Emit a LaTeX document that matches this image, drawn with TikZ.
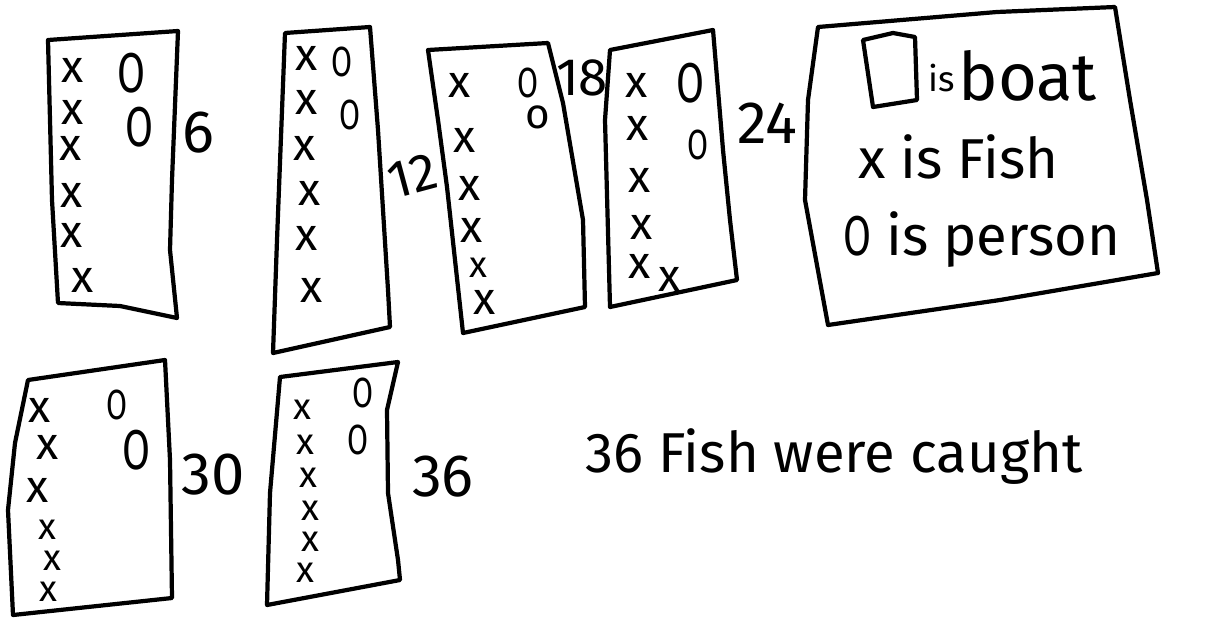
\documentclass[tikz,border=0pt]{standalone}
\usepackage{fontspec}
\setmainfont{Fira Sans}
\usepackage{graphicx}
\newcommand{\pers}{\scalebox{0.72}[1]{O}}

\begin{document}
\begin{tikzpicture}[x=0.02cm,y=-0.02cm,
        boat/.style={line width=2.4pt,line join=round,line cap=round},
        fish/.style={inner sep=0pt,font=\fontsize{26}{26}\selectfont},
        smallfish/.style={inner sep=0pt,font=\fontsize{21}{21}\selectfont},
        pers/.style={inner sep=0pt,font=\fontsize{32}{32}\selectfont},
        smallpers/.style={inner sep=0pt,font=\fontsize{24}{24}\selectfont},
        num/.style={inner sep=0pt,font=\fontsize{34}{34}\selectfont},
        note/.style={inner sep=0pt,anchor=west,font=\fontsize{32}{32}\selectfont}]
  \useasboundingbox (0,0) rectangle (1212,619);

  % boats, top row
  \draw[boat] (48,40) -- (178,31) -- (172,180) -- (170,250) -- (177,318)
              -- (120,306) -- (58,303) -- (52,200) -- cycle;
  \draw[boat] (285,33) -- (370,27) -- (378,130) -- (388,290) -- (390,327)
              -- (273,353) -- (277,240) -- cycle;
  \draw[boat] (428,50) -- (548,43) -- (563,103) -- (583,220) -- (585,307)
              -- (463,333) -- (447,187) -- (438,120) -- cycle;
  \draw[boat] (610,50) -- (713,30) -- (723,150) -- (730,220) -- (737,280)
              -- (610,307) -- (605,120) -- cycle;
  % legend
  \draw[boat] (818,27) -- (997,12) -- (1115,7) -- (1130,100) -- (1147,200)
              -- (1158,273) -- (1000,300) -- (828,325) -- (805,200) -- (808,100) -- cycle;
  % boats, bottom row
  \draw[boat] (28,380) -- (165,360) -- (170,460) -- (172,598) -- (13,615)
              -- (8,510) -- (15,443) -- cycle;
  \draw[boat] (280,377) -- (398,362) -- (387,410) -- (388,493) -- (398,560)
              -- (400,580) -- (267,605) -- (270,493) -- cycle;

  % fish
  \foreach \i/\px/\py in {1/73/70,2/73/112,3/71/148,4/72/195,5/72/235,6/83/280}
    \node[fish] (f1-\i) at (\px,\py) {x};
  \foreach \i/\px/\py in {1/307/58,2/307/102,3/305/148,4/310/193,5/307/238,6/312/290}
    \node[fish] (f2-\i) at (\px,\py) {x};
  \foreach \i/\px/\py in {1/460/85,2/465/140,3/470/188,4/472/230,6/485/302}
    \node[fish] (f3-\i) at (\px,\py) {x};
  \node[smallfish] (f3-5) at (478,268) {x};
  \foreach \i/\px/\py in {1/637/85,2/638/128,3/640/180,4/642/227,5/640/266,6/670/279}
    \node[fish] (f4-\i) at (\px,\py) {x};
  \foreach \i/\px/\py in {1/40/410,2/48/447,3/38/490}
    \node[fish] (f5-\i) at (\px,\py) {x};
  \foreach \i/\px/\py in {4/47/530,5/52/561,6/48/592}
    \node[smallfish] (f5-\i) at (\px,\py) {x};
  \foreach \i/\px/\py in {1/302/410,2/305/445,3/308/478,4/310/511,5/310/542,6/305/573}
    \node[smallfish] (f6-\i) at (\px,\py) {x};

  % people
  \node[pers] (p1-1) at (132,73) {\pers};
  \node[pers] (p1-2) at (140,127) {\pers};
  \node[smallpers] (p2-1) at (342,62) {\pers};
  \node[smallpers] (p2-2) at (350,115) {\pers};
  \node[smallpers] (p3-1) at (528,83) {\pers};
  \node[smallpers] (p3-2) at (538,117) {o};
  \node[pers] (p4-1) at (690,83) {\pers};
  \node[smallpers] (p4-2) at (698,145) {\pers};
  \node[smallpers] (p5-1) at (117,405) {\pers};
  \node[pers] (p5-2) at (137,450) {\pers};
  \node[smallpers] (p6-1) at (363,393) {\pers};
  \node[smallpers] (p6-2) at (358,440) {\pers};

  % running totals
  \node[num] (n6) at (198,133) {6};
  \node[num,rotate=15,font=\fontsize{30}{30}\selectfont] (n12) at (412,176) {12};
  \node[num,font=\fontsize{30}{30}\selectfont] (n18) at (582,78) {18};
  \node[num] (n24) at (767,123) {24};
  \node[num] (n30) at (213,475) {30};
  \node[num] (n36) at (443,477) {36};

  % key
  \draw[boat] (863,40) -- (893,33) -- (915,37) -- (917,100) -- (873,107) -- cycle;
  \node[inner sep=0pt,font=\fontsize{20}{20}\selectfont] (kis) at (942,78) {is};
  \node[note,font=\fontsize{38}{38}\selectfont] (kboat) at (958,76) {boat};
  \node[note] (kfish) at (858,157) {x is Fish};
  \node[note] (kpers) at (843,240) {\pers{} is person};

  \node[note] (total) at (585,457) {36 Fish were caught};
\end{tikzpicture}
\end{document}
